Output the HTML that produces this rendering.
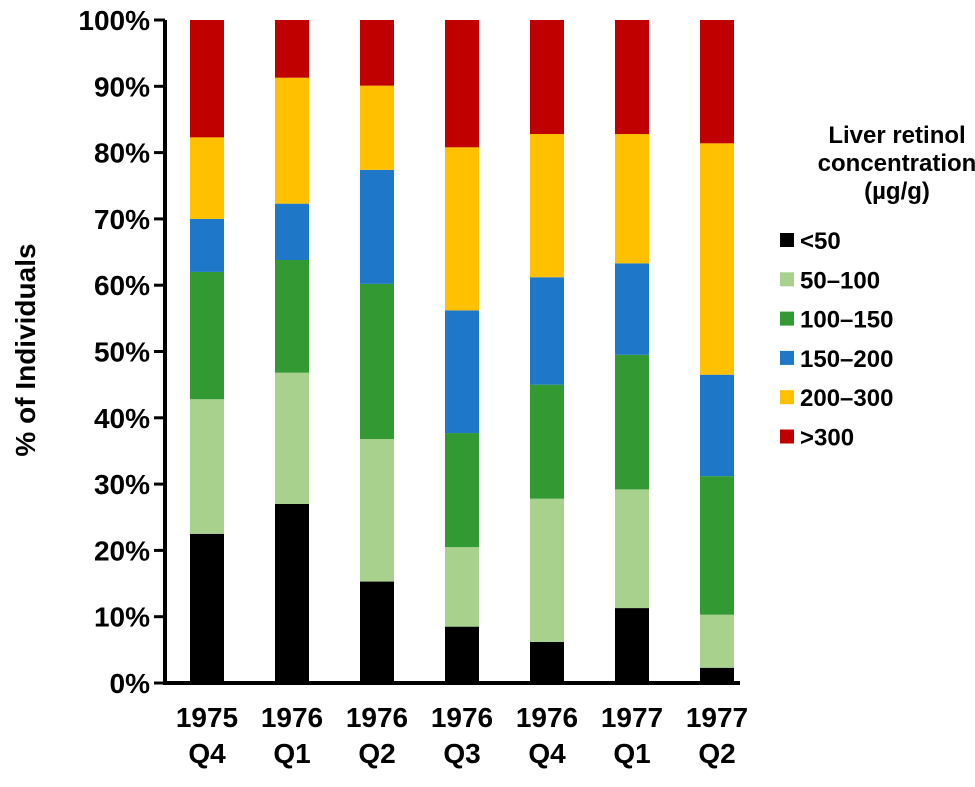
<!DOCTYPE html>
<html><head><meta charset="utf-8"><style>
body{margin:0;background:#fff;}
svg{font-family:"Liberation Sans",Arial,sans-serif;font-weight:bold;}
</style></head><body>
<svg id="c" width="975" height="782"></svg>
<script>
const categories=[["1975","Q4"],["1976","Q1"],["1976","Q2"],["1976","Q3"],["1976","Q4"],["1977","Q1"],["1977","Q2"]];
const seriesNames=["<50","50\u2013100","100\u2013150","150\u2013200","200\u2013300",">300"];
const s50=[22.5,27,15.3,8.5,6.2,11.3,2.3];
const s100=[20.3,19.8,21.5,12,21.6,17.9,8];
const s150=[19.2,17,23.4,17.2,17.2,20.3,20.9];
const s200=[8,8.5,17.2,18.5,16.2,13.8,15.3];
const s300=[12.3,19,12.7,24.6,21.6,19.5,34.9];
const sOver=[17.7,8.7,9.9,19.2,17.2,17.2,18.6];
const yTicks=[0,10,20,30,40,50,60,70,80,90,100];
const colors=["#000000","#a9d18e","#339933","#1f77c8","#ffc000","#c00000"];
const series=[s50,s100,s150,s200,s300,sOver];
const svg=document.getElementById('c');const NS="http://www.w3.org/2000/svg";
function el(t,a,txt){const e=document.createElementNS(NS,t);for(const k in a)e.setAttribute(k,a[k]);if(txt!==undefined)e.textContent=txt;svg.appendChild(e);return e;}
const y0=683,y1=20;const y=v=>y0-(y0-y1)*v/100;
const x=i=>190+i*85;const bw=34;
categories.forEach((c,i)=>{let cum=0;series.forEach((s,j)=>{const v=s[i];const r=el('rect',{x:x(i),y:y(cum+v),width:bw,height:y(cum)-y(cum+v),fill:colors[j]});

cum+=v;});
const t=el('text',{x:x(i)+bw/2,y:727,'text-anchor':'middle','font-size':28},c[0]);


const t2=el('text',{x:x(i)+bw/2,y:763,'text-anchor':'middle','font-size':28},c[1]);


});
yTicks.forEach(v=>{const l=el('line',{x1:154,x2:165,y1:y(v),y2:y(v),stroke:'#000','stroke-width':3});


const t=el('text',{x:150,y:y(v)+10,'text-anchor':'end','font-size':28},v+'%');

});
const ax=el('path',{d:`M165 ${y1} V${y0} H740`,stroke:'#000','stroke-width':4,fill:'none'});


const yt=el('text',{transform:'translate(35,350) rotate(-90)','text-anchor':'middle','font-size':28},'% of Individuals');


["Liver retinol","concentration","(\u00b5g/g)"].forEach((s,i)=>{const t=el('text',{x:897,y:143+i*28,'text-anchor':'middle','font-size':24},s);

});
seriesNames.forEach((n,j)=>{const yy=241+j*39.3;
const r=el('rect',{x:780,y:yy-8,width:14,height:14,fill:colors[j]});


const t=el('text',{x:800,y:yy+8,'font-size':24},n);

});
</script>
</body></html>
